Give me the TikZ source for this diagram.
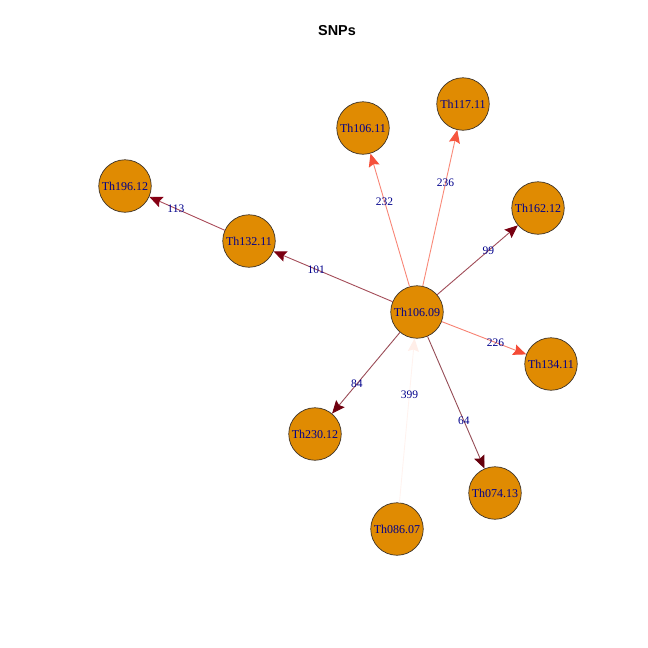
\documentclass[tikz,border=0pt]{standalone}
\usepackage{fontspec}
\setmainfont{Liberation Serif}
\newfontfamily\titlefont{Liberation Sans}
\usetikzlibrary{arrows.meta}
\definecolor{vfill}{RGB}{224,139,2}
\definecolor{vline}{RGB}{60,50,40}
\definecolor{lab}{RGB}{0,0,139}
\definecolor{cA}{HTML}{67000D}
\definecolor{cB}{HTML}{6F000F}
\definecolor{cC}{HTML}{780011}
\definecolor{cD}{HTML}{7B0011}
\definecolor{cE}{HTML}{850014}
\definecolor{cF}{HTML}{F44B36}
\definecolor{cG}{HTML}{F5513B}
\definecolor{cH}{HTML}{F6563E}
\definecolor{cI}{HTML}{FFEEE8}
\tikzset{
  vtx/.style={circle, draw=vline, line width=0.7pt, fill=vfill, minimum size=52.5pt, inner sep=0pt,
    text=lab, font=\fontsize{12}{12}\selectfont},
  elab/.style={text=lab, font=\fontsize{11.5}{12}\selectfont, inner sep=0pt},
  edg/.style={line width=0.9pt, draw=#1!70!white, -{Stealth[length=13pt,width=11pt,inset=2pt,color=#1]}},
}
\begin{document}
\begin{tikzpicture}[x=1pt,y=-1pt]
\useasboundingbox (0,0) rectangle (648,648);
\node[font=\titlefont\bfseries\fontsize{14.4}{15}\selectfont] (title) at (337,31) {SNPs};
\node[vtx] (c) at (417,312) {Th106.09};
\node[vtx] (a1) at (363,128) {Th106.11};
\node[vtx] (a2) at (463,104) {Th117.11};
\node[vtx] (a3) at (538,208) {Th162.12};
\node[vtx] (a4) at (551,364) {Th134.11};
\node[vtx] (a5) at (495,493) {Th074.13};
\node[vtx] (a6) at (397,529) {Th086.07};
\node[vtx] (a7) at (315,434) {Th230.12};
\node[vtx] (a8) at (249,241) {Th132.11};
\node[vtx] (a9) at (125,186) {Th196.12};
\draw[edg=cG] (c) -- (a1);
\draw[edg=cH] (c) -- (a2);
\draw[edg=cC] (c) -- (a3);
\draw[edg=cF] (c) -- (a4);
\draw[edg=cA] (c) -- (a5);
\draw[edg=cI] (a6) -- (c);
\draw[edg=cB] (c) -- (a7);
\draw[edg=cD] (c) -- (a8);
\draw[edg=cE] (a8) -- (a9);
\path (c.center) -- node[elab,pos=0.6] (l1) {232} (a1.center);
\path (c.center) -- node[elab,pos=0.62] (l2) {236} (a2.center);
\path (c.center) -- node[elab,pos=0.59] (l3) {99} (a3.center);
\path (c.center) -- node[elab,pos=0.585] (l4) {226} (a4.center);
\path (c.center) -- node[elab,pos=0.6] (l5) {64} (a5.center);
\path (a6.center) -- node[elab,pos=0.62] (l6) {399} (c.center);
\path (c.center) -- node[elab,pos=0.59] (l7) {84} (a7.center);
\path (c.center) -- node[elab,pos=0.6] (l8) {101} (a8.center);
\path (a8.center) -- node[elab,pos=0.59] (l9) {113} (a9.center);
\end{tikzpicture}
\end{document}
